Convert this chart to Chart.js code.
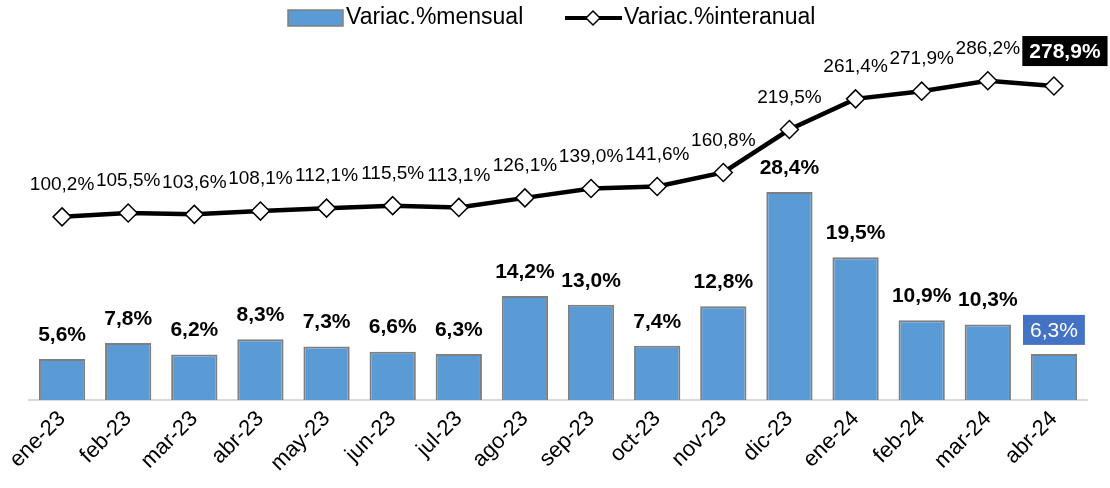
<!DOCTYPE html>
<html>
<head>
<meta charset="utf-8">
<script src="https://cdn.jsdelivr.net/npm/chart.js@4"></script>
<style>
  html, body { margin: 0; padding: 0; background: #fff; }
  canvas { display: block; }
</style>
</head>
<body>
<canvas id="myChart" width="1110" height="488"></canvas>
<script>
var labels = ["ene-23", "feb-23", "mar-23", "abr-23", "may-23", "jun-23", "jul-23", "ago-23",
              "sep-23", "oct-23", "nov-23", "dic-23", "ene-24", "feb-24", "mar-24", "abr-24"];
var mensual = [5.6, 7.8, 6.2, 8.3, 7.3, 6.6, 6.3, 14.2, 13.0, 7.4, 12.8, 28.4, 19.5, 10.9, 10.3, 6.3];
var interanual = [100.2, 105.5, 103.6, 108.1, 112.1, 115.5, 113.1, 126.1, 139.0, 141.6, 160.8, 219.5, 261.4, 271.9, 286.2, 278.9];

var FONT = '"Liberation Sans", Arial, sans-serif';
var BAR_FILL = "#5b9bd5";
var BAR_BORDER = "#7f7f7f";

function fmt(v) {
    return v.toFixed(1).replace(".", ",") + "%";
}

function box(ctx, cx, cy, text, bg, font) {
    ctx.font = font;
    var w = ctx.measureText(text).width + 14;
    var h = 30;
    ctx.fillStyle = bg;
    ctx.fillRect(cx - w / 2, cy - h / 2, w, h);
    ctx.fillStyle = "#fff";
    ctx.fillText(text, cx, cy + 1);
}

// value labels for bars and line points
var valueLabels = {
    id: "valueLabels",
    afterDatasetsDraw: function (chart) {
        var ctx = chart.ctx;
        ctx.save();
        ctx.textAlign = "center";
        ctx.textBaseline = "middle";

        var barMeta = chart.getDatasetMeta(1);
        var last = mensual.length - 1;
        barMeta.data.forEach(function (bar, i) {
            var t = fmt(mensual[i]);
            if (i === last) {
                box(ctx, bar.x, bar.y - 24, t, "#4472c4", "21px " + FONT);
            } else {
                ctx.font = "bold 21px " + FONT;
                ctx.fillStyle = "#000";
                ctx.fillText(t, bar.x, bar.y - 24);
            }
        });

        var lineMeta = chart.getDatasetMeta(0);
        lineMeta.data.forEach(function (pt, i) {
            var t = fmt(interanual[i]);
            if (i === last) {
                box(ctx, pt.x + 11, pt.y - 35, t, "#000", "bold 21px " + FONT);
            } else {
                ctx.font = "19px " + FONT;
                ctx.fillStyle = "#000";
                ctx.fillText(t, pt.x, pt.y - 32);
            }
        });
        ctx.restore();
    }
};

// legend drawn by hand so the line entry shows line + diamond
var customLegend = {
    id: "customLegend",
    afterDraw: function (chart) {
        var ctx = chart.ctx;
        ctx.save();
        ctx.font = "23px " + FONT;
        ctx.textBaseline = "middle";
        ctx.textAlign = "left";
        var y = 18;

        ctx.fillStyle = BAR_FILL;
        ctx.fillRect(288, 10, 55, 16);
        ctx.strokeStyle = BAR_BORDER;
        ctx.lineWidth = 1.5;
        ctx.strokeRect(288, 10, 55, 16);
        ctx.fillStyle = "#000";
        ctx.fillText("Variac.%mensual", 346, y);

        ctx.strokeStyle = "#000";
        ctx.lineWidth = 4;
        ctx.beginPath();
        ctx.moveTo(565, y);
        ctx.lineTo(622, y);
        ctx.stroke();
        ctx.beginPath();
        ctx.moveTo(593, y - 7);
        ctx.lineTo(600, y);
        ctx.lineTo(593, y + 7);
        ctx.lineTo(586, y);
        ctx.closePath();
        ctx.fillStyle = "#fff";
        ctx.fill();
        ctx.lineWidth = 1.5;
        ctx.stroke();
        ctx.fillStyle = "#000";
        ctx.fillText("Variac.%interanual", 624, y);
        ctx.restore();
    }
};

var ctx = document.getElementById("myChart").getContext("2d");

var myChart = new Chart(ctx, {
    type: "bar",
    data: {
        labels: labels,
        datasets: [
            {
                type: "line",
                label: "Variac.%interanual",
                data: interanual,
                yAxisID: "y2",
                borderColor: "#000",
                borderWidth: 4.5,
                pointStyle: "rectRot",
                pointRadius: 9,
                pointBackgroundColor: "#fff",
                pointBorderColor: "#000",
                pointBorderWidth: 1.5,
                fill: false,
                tension: 0,
                order: 0,
            },
            {
                type: "bar",
                label: "Variac.%mensual",
                data: mensual,
                yAxisID: "y",
                backgroundColor: BAR_FILL,
                borderColor: BAR_BORDER,
                borderWidth: 2,
                barPercentage: 0.7,
                categoryPercentage: 1,
                order: 1,
            },
        ],
    },
    options: {
        responsive: false,
        animation: false,
        layout: {
            padding: { top: 34, left: 29, right: 23, bottom: 0 },
        },
        plugins: {
            legend: { display: false },
            tooltip: { enabled: false },
        },
        scales: {
            x: {
                grid: { display: false },
                border: { display: true, color: "#d9d9d9", width: 2 },
                ticks: {
                    color: "#000",
                    font: { family: FONT, size: 22 },
                    minRotation: 45,
                    maxRotation: 45,
                    padding: -2,
                },
                afterFit: function (scale) {
                    scale.height = 88;
                },
            },
            y: {
                display: false,
                min: 0,
                max: 50,
            },
            y2: {
                display: false,
                min: -150,
                max: 350,
            },
        },
    },
    plugins: [valueLabels, customLegend],
});
</script>
</body>
</html>
